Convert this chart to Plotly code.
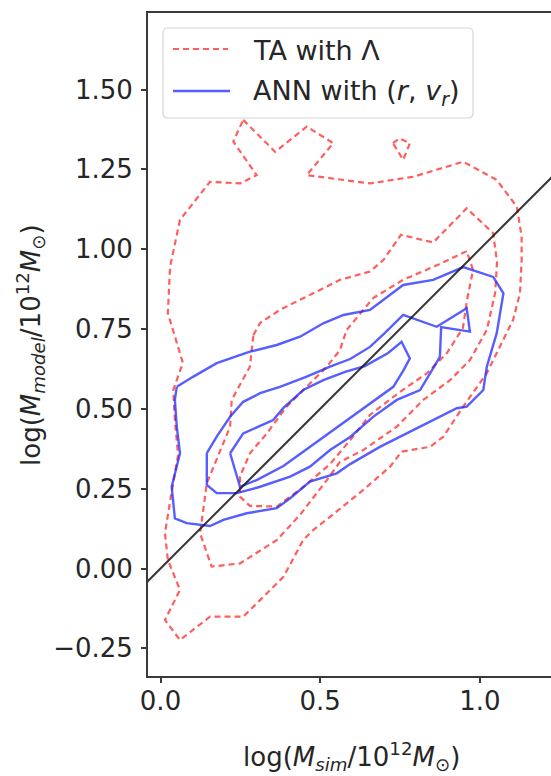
import plotly.graph_objects as go

# ---------------- data ----------------
# TA with Lambda (red dashed) contours
ta_outer_x = [0.259, 0.359, 0.458, 0.541, 0.458, 0.656, 0.792, 0.948, 1.053, 1.116, 1.131, 1.131,
              1.126, 1.104, 1.063, 1.022, 0.948, 0.886, 0.844, 0.755, 0.719, 0.635, 0.531, 0.479,
              0.447, 0.385, 0.312, 0.259, 0.155, 0.061, 0.014, 0.061, 0.023, 0.014, 0.036, 0.055,
              0.045, 0.040, 0.070, 0.045, 0.023, 0.030, 0.061, 0.155, 0.249, 0.301, 0.228, 0.259]
ta_outer_y = [1.405, 1.305, 1.384, 1.332, 1.232, 1.206, 1.227, 1.274, 1.217, 1.133, 1.039, 0.966,
              0.863, 0.778, 0.695, 0.612, 0.507, 0.413, 0.381, 0.366, 0.319, 0.246, 0.162, 0.121,
              0.089, -0.026, -0.099, -0.151, -0.151, -0.224, -0.161, -0.067, 0.027, 0.111, 0.246, 0.355,
              0.465, 0.559, 0.644, 0.731, 0.800, 0.945, 1.092, 1.211, 1.206, 1.232, 1.337, 1.405]

ta_island_x = [0.728, 0.749, 0.781, 0.760, 0.728]
ta_island_y = [1.332, 1.347, 1.332, 1.280, 1.332]

ta_mid_x = [0.291, 0.312, 0.374, 0.479, 0.562, 0.656, 0.698, 0.753, 0.854, 0.959, 1.042, 1.054,
            1.048, 1.022, 0.969, 0.907, 0.823, 0.740, 0.635, 0.562, 0.521, 0.437, 0.364, 0.249,
            0.160, 0.124, 0.145, 0.218, 0.223, 0.280, 0.291]
ta_mid_y = [0.731, 0.769, 0.810, 0.862, 0.904, 0.930, 0.966, 1.045, 1.021, 1.128, 1.050, 0.960,
            0.863, 0.747, 0.653, 0.590, 0.528, 0.444, 0.371, 0.334, 0.277, 0.168, 0.089, 0.016,
            0.006, 0.110, 0.267, 0.444, 0.528, 0.632, 0.731]

ta_inner_x = [0.959, 0.875, 0.760, 0.666, 0.583, 0.562, 0.521, 0.427, 0.395, 0.333, 0.280, 0.249,
              0.249, 0.280, 0.364, 0.447, 0.531, 0.594, 0.656, 0.750, 0.835, 0.897, 0.947, 0.960,
              0.979, 0.959]
ta_inner_y = [0.994, 0.954, 0.904, 0.847, 0.747, 0.684, 0.632, 0.538, 0.507, 0.423, 0.361, 0.288,
              0.225, 0.196, 0.194, 0.255, 0.327, 0.402, 0.481, 0.553, 0.612, 0.675, 0.753, 0.841,
              0.935, 0.994]

# ANN with (r, v_r) (blue solid) contours
ann_outer_x = [0.051, 0.103, 0.176, 0.280, 0.364, 0.437, 0.510, 0.573, 0.656, 0.760, 0.854, 0.948,
               1.042, 1.074, 1.053, 1.022, 1.011, 0.959, 0.928, 0.771, 0.687, 0.594, 0.552, 0.468,
               0.406, 0.364, 0.270, 0.197, 0.155, 0.082, 0.045, 0.035, 0.061, 0.051, 0.045, 0.051]
ann_outer_y = [0.569, 0.601, 0.643, 0.679, 0.700, 0.726, 0.768, 0.794, 0.810, 0.888, 0.904, 0.944,
               0.913, 0.862, 0.737, 0.632, 0.559, 0.507, 0.502, 0.423, 0.381, 0.327, 0.298, 0.272,
               0.220, 0.189, 0.173, 0.152, 0.133, 0.142, 0.157, 0.256, 0.361, 0.444, 0.528, 0.569]

ann_mid_x = [0.145, 0.176, 0.218, 0.259, 0.312, 0.374, 0.458, 0.531, 0.594, 0.656, 0.703, 0.760,
             0.865, 0.959, 0.969, 0.879, 0.875, 0.844, 0.813, 0.740, 0.666, 0.594, 0.531, 0.468,
             0.406, 0.312, 0.239, 0.176, 0.145, 0.145]
ann_mid_y = [0.361, 0.413, 0.475, 0.522, 0.549, 0.569, 0.601, 0.632, 0.656, 0.694, 0.738, 0.794,
             0.757, 0.815, 0.742, 0.756, 0.663, 0.611, 0.559, 0.528, 0.475, 0.412, 0.371, 0.319,
             0.288, 0.256, 0.236, 0.236, 0.262, 0.361]

ann_inner_x = [0.218, 0.259, 0.353, 0.385, 0.447, 0.510, 0.578, 0.640, 0.713, 0.755, 0.781, 0.760,
               0.729, 0.672, 0.594, 0.531, 0.468, 0.385, 0.301, 0.249, 0.218]
ann_inner_y = [0.361, 0.423, 0.465, 0.503, 0.559, 0.590, 0.616, 0.634, 0.675, 0.710, 0.658, 0.619,
               0.569, 0.528, 0.471, 0.428, 0.381, 0.321, 0.277, 0.256, 0.361]

# one-to-one reference line
ref_x = [-0.1, 1.4]
ref_y = [-0.1, 1.4]

x_tickvals = [0.0, 0.5, 1.0]
x_ticktext = ["0.0", "0.5", "1.0"]
y_tickvals = [-0.25, 0.0, 0.25, 0.5, 0.75, 1.0, 1.25, 1.5]
y_ticktext = ["\u22120.25", "0.00", "0.25", "0.50", "0.75", "1.00", "1.25", "1.50"]

legend_labels = ["TA with \u039b", "ANN with (<i>r</i>, <i>v</i><sub><i>r</i></sub>)"]
x_title = "log(<i>M</i><sub><i>sim</i></sub>/10<sup>12</sup><i>M</i><sub>\u2299</sub>)"
y_title = "log(<i>M</i><sub><i>model</i></sub>/10<sup>12</sup><i>M</i><sub>\u2299</sub>)"

# ---------------- styling ----------------
FONT = "DejaVu Sans"
TXT = "#262626"
RED = "rgba(255,40,40,0.75)"
BLUE = "rgba(30,40,255,0.75)"
RED_DASH = "6px,4px"

fig = go.Figure()

for xs, ys in [(ta_outer_x, ta_outer_y), (ta_island_x, ta_island_y),
               (ta_mid_x, ta_mid_y), (ta_inner_x, ta_inner_y)]:
    fig.add_trace(go.Scatter(x=xs, y=ys, mode="lines", showlegend=False, hoverinfo="skip",
                             line=dict(color=RED, width=2.2, dash=RED_DASH)))

for xs, ys in [(ann_outer_x, ann_outer_y), (ann_mid_x, ann_mid_y), (ann_inner_x, ann_inner_y)]:
    fig.add_trace(go.Scatter(x=xs, y=ys, mode="lines", showlegend=False, hoverinfo="skip",
                             line=dict(color=BLUE, width=2.4)))

fig.add_trace(go.Scatter(x=ref_x, y=ref_y, mode="lines", showlegend=False, hoverinfo="skip",
                         line=dict(color="rgba(20,20,20,0.85)", width=2)))

W, H = 551, 776
ML, MR, MT, MB = 148, 0, 13, 100          # plot area: x 148..551, y 13..676
PW, PH = W - ML - MR, H - MT - MB


def px(xw):
    return (xw - ML) / PW


def py(yw):
    return (H - MB - yw) / PH


# axis ranges from the pixel calibration (0 at x=160.5, y=568.5; 319.3 px per unit)
x_range = [(ML - 160.5) / 319.3, (W - 160.5) / 319.3]
y_range = [(568.5 - (H - MB)) / 319.3, (568.5 - MT) / 319.3]

# manual legend (rounded box, line samples, labels)
x0, x1, y0, y1 = px(163), px(473), py(118), py(28)
rx, ry = 5 / PW, 5 / PH
path = (f"M{x0+rx},{y0} L{x1-rx},{y0} Q{x1},{y0} {x1},{y0+ry} L{x1},{y1-ry} Q{x1},{y1} {x1-rx},{y1} "
        f"L{x0+rx},{y1} Q{x0},{y1} {x0},{y1-ry} L{x0},{y0+ry} Q{x0},{y0} {x0+rx},{y0} Z")
shapes = [
    dict(type="path", xref="paper", yref="paper", path=path, fillcolor="rgba(255,255,255,0.85)",
         line=dict(color="#d6d6d6", width=1.2), layer="above"),
    dict(type="line", xref="paper", yref="paper", x0=px(173), x1=px(228), y0=py(49), y1=py(49),
         line=dict(color=RED, width=2.2, dash=RED_DASH), layer="above"),
    dict(type="line", xref="paper", yref="paper", x0=px(173), x1=px(230), y0=py(91), y1=py(91),
         line=dict(color=BLUE, width=2.4), layer="above"),
]

annotations = [
    dict(x=px(251), y=py(50), xref="paper", yref="paper", text=legend_labels[0], showarrow=False,
         xanchor="left", yanchor="middle", font=dict(family=FONT, size=27, color=TXT)),
    dict(x=px(251), y=py(92), xref="paper", yref="paper", text=legend_labels[1], showarrow=False,
         xanchor="left", yanchor="middle", font=dict(family=FONT, size=27, color=TXT)),
    dict(x=px(351), y=py(756), xref="paper", yref="paper", text=x_title, showarrow=False,
         xanchor="center", yanchor="middle", font=dict(family=FONT, size=26, color=TXT)),
    dict(x=px(30), y=py(345), xref="paper", yref="paper", text=y_title, showarrow=False,
         textangle=-90, xanchor="center", yanchor="middle", font=dict(family=FONT, size=26, color=TXT)),
]

axis_common = dict(showgrid=False, zeroline=False, showline=True, linecolor="#3a3a3a", linewidth=1.8,
                   ticks="outside", ticklen=5, tickwidth=1.5, tickcolor="#3a3a3a",
                   tickfont=dict(family=FONT, size=26, color=TXT))

fig.update_layout(
    width=W, height=H,
    margin=dict(l=ML, r=MR, t=MT, b=MB, autoexpand=False),
    paper_bgcolor="white", plot_bgcolor="white",
    xaxis=dict(range=x_range, tickvals=x_tickvals, ticktext=x_ticktext, mirror=True,
               ticklabelstandoff=-4, **axis_common),
    yaxis=dict(range=y_range, tickvals=y_tickvals, ticktext=y_ticktext, mirror=False,
               ticklabelstandoff=3, **axis_common),
    shapes=shapes,
    annotations=annotations,
    showlegend=False,
)

# remove the default page margin so the figure sits at the window's top-left corner
fig.write_html("out.html", config={"displayModeBar": False},
               post_script="document.body.style.margin='0';document.body.style.overflow='hidden';")
